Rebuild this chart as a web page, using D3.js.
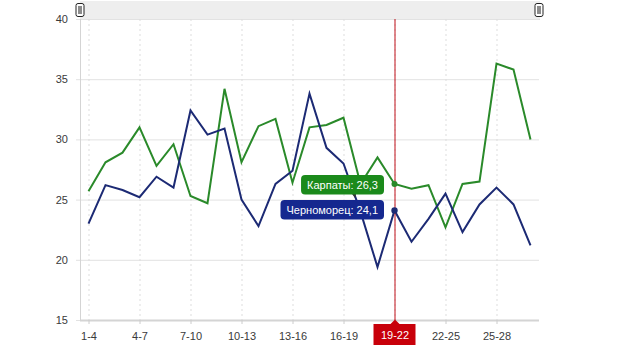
<!DOCTYPE html>
<html><head><meta charset="utf-8">
<script src="https://cdn.jsdelivr.net/npm/d3@7"></script>
<style>
html,body{margin:0;padding:0;background:#fff;}
svg{display:block;font-family:"Liberation Sans",Arial,sans-serif;}
</style></head>
<body><svg id="c" width="629" height="351"></svg>
<script>
const categories = ["1-4","2-5","3-6","4-7","5-8","6-9","7-10","8-11","9-12","10-13","11-14","12-15","13-16","14-17","15-18","16-19","17-20","18-21","19-22","20-23","21-24","22-25","23-26","24-27","25-28","26-29","27-30"];
const karpaty = [25.7,28.1,28.9,31.0,27.8,29.6,25.3,24.7,34.2,28.1,31.1,31.7,26.4,31.0,31.2,31.8,26.3,28.5,26.3,25.9,26.2,22.7,26.3,26.5,36.3,35.8,30.0];
const chernomorets = [23.0,26.2,25.8,25.2,26.9,26.0,32.4,30.4,30.9,25.0,22.8,26.3,27.4,33.8,29.3,28.0,24.0,19.4,24.1,21.5,23.4,25.5,22.3,24.6,26.0,24.6,21.2];
const yTicks = [15,20,25,30,35,40];
const xLabelEvery = 3;
const hoverIndex = 18;
const seriesNames = ["Карпаты","Черноморец"];
const colors = {karpaty:"#2a8a2a", chern:"#1c2a74", tipK:"#1b8a1b", tipC:"#15288f", cross:"#c0101a"};

(function(){
const svg = d3.select("#c");
const x = d3.scalePoint().domain(categories).range([88.5,530.5]);
const y = d3.scaleLinear().domain([15,40]).range([320,19]);
const pl = 80, pr = 539, pt = 19, pb = 320;

// scrollbar
svg.append("rect").attr("x",pl).attr("y",1).attr("width",pr-pl+1).attr("height",18).attr("fill","#eeeeee");
svg.append("line").attr("x1",pl).attr("x2",pr+1).attr("y1",19.5).attr("y2",19.5).attr("stroke","#dcdcdc");
[pl, pr].forEach(cx=>{
  svg.append("rect").attr("x",cx-4).attr("y",3.5).attr("width",8).attr("height",13).attr("rx",2)
    .attr("fill","#fff").attr("stroke","#222").attr("stroke-width",1);
  svg.append("rect").attr("x",cx-2).attr("y",6).attr("width",4).attr("height",8).attr("fill","#8c8c8c");
});

// horizontal grid + y axis
const yAxis = d3.axisLeft(y).tickValues(yTicks).tickSize(-(pr-pl)).tickPadding(12).tickFormat(d3.format("d"));
const gy = svg.append("g").attr("transform",`translate(${pl},0)`).call(yAxis);
gy.select(".domain").remove();
gy.selectAll(".tick line").attr("stroke","#e2e2e2").attr("x1",-4);
gy.selectAll(".tick text").attr("fill","#3a3a3a").attr("font-size",11).attr("font-family","Liberation Sans, Arial, sans-serif");

// vertical dotted grid
const labeled = categories.filter((c,i)=>i%xLabelEvery===0);
svg.append("g").selectAll("line").data(labeled).join("line")
  .attr("x1",d=>x(d)+0.5).attr("x2",d=>x(d)+0.5).attr("y1",pt).attr("y2",pb)
  .attr("stroke","#dddddd").attr("stroke-dasharray","2,3");

// left axis line
svg.append("line").attr("x1",pl+0.5).attr("x2",pl+0.5).attr("y1",pt).attr("y2",pb).attr("stroke","#d4d4d4");

// x axis
const xAxis = d3.axisBottom(x).tickValues(labeled).tickSize(4).tickPadding(8);
const gx = svg.append("g").attr("transform",`translate(0,${pb})`).call(xAxis);
gx.select(".domain").attr("d",`M${pl},0.5H${pr}`).attr("stroke","#d4d4d4").attr("stroke-width",2);
gx.selectAll(".tick line").attr("stroke","#cccccc");
gx.selectAll(".tick text").attr("fill","#3a3a3a").attr("font-size",11).attr("font-family","Liberation Sans, Arial, sans-serif")
  .attr("opacity",d=>d===categories[hoverIndex]?0:1);

// lines
const line = d3.line().x((d,i)=>x(categories[i])).y(d=>y(d));
svg.append("path").datum(karpaty).attr("d",line).attr("fill","none").attr("stroke",colors.karpaty).attr("stroke-width",2).attr("stroke-linejoin","miter");
svg.append("path").datum(chernomorets).attr("d",line).attr("fill","none").attr("stroke",colors.chern).attr("stroke-width",2).attr("stroke-linejoin","miter");

// crosshair
const hx = x(categories[hoverIndex]);
svg.append("line").attr("x1",hx+0.5).attr("x2",hx+0.5).attr("y1",pt).attr("y2",pb).attr("stroke",colors.cross).attr("stroke-width",1);
const lbl = svg.append("g");
lbl.append("rect").attr("x",hx-21).attr("y",324).attr("width",42).attr("height",21).attr("fill","#c8000a");
lbl.append("path").attr("d",`M${hx-4},324L${hx+0.5},319.5L${hx+5},324Z`).attr("fill","#c8000a");
lbl.append("text").attr("x",hx+0.5).attr("y",339).attr("text-anchor","middle").attr("fill","#fff").attr("font-size",11).text(categories[hoverIndex]);

// hover dots
svg.append("circle").attr("cx",hx).attr("cy",y(karpaty[hoverIndex])).attr("r",3).attr("fill",colors.karpaty);
svg.append("circle").attr("cx",hx).attr("cy",y(chernomorets[hoverIndex])).attr("r",3.2).attr("fill",colors.chern);

// tooltips
const fmt = v=>d3.format(".1f")(v).replace(".",",");
function tip(text, fill, yTop){
  const g = svg.append("g");
  const t = g.append("text").attr("y",yTop+14).attr("fill","#fff").attr("font-size",11).text(text);
  const w = t.node().getComputedTextLength();
  const xr = 384;
  g.insert("rect","text").attr("x",xr-w-12).attr("y",yTop).attr("width",w+12).attr("height",19.5).attr("rx",4).attr("fill",fill);
  t.attr("x",xr-w-6);
}
svg.append("path").attr("d","M352,194L356,194L355,198Z").attr("fill","#333");
tip(`${seriesNames[0]}: ${fmt(karpaty[hoverIndex])}`, colors.tipK, 175);
tip(`${seriesNames[1]}: ${fmt(chernomorets[hoverIndex])}`, colors.tipC, 200);
})();
</script></body></html>
